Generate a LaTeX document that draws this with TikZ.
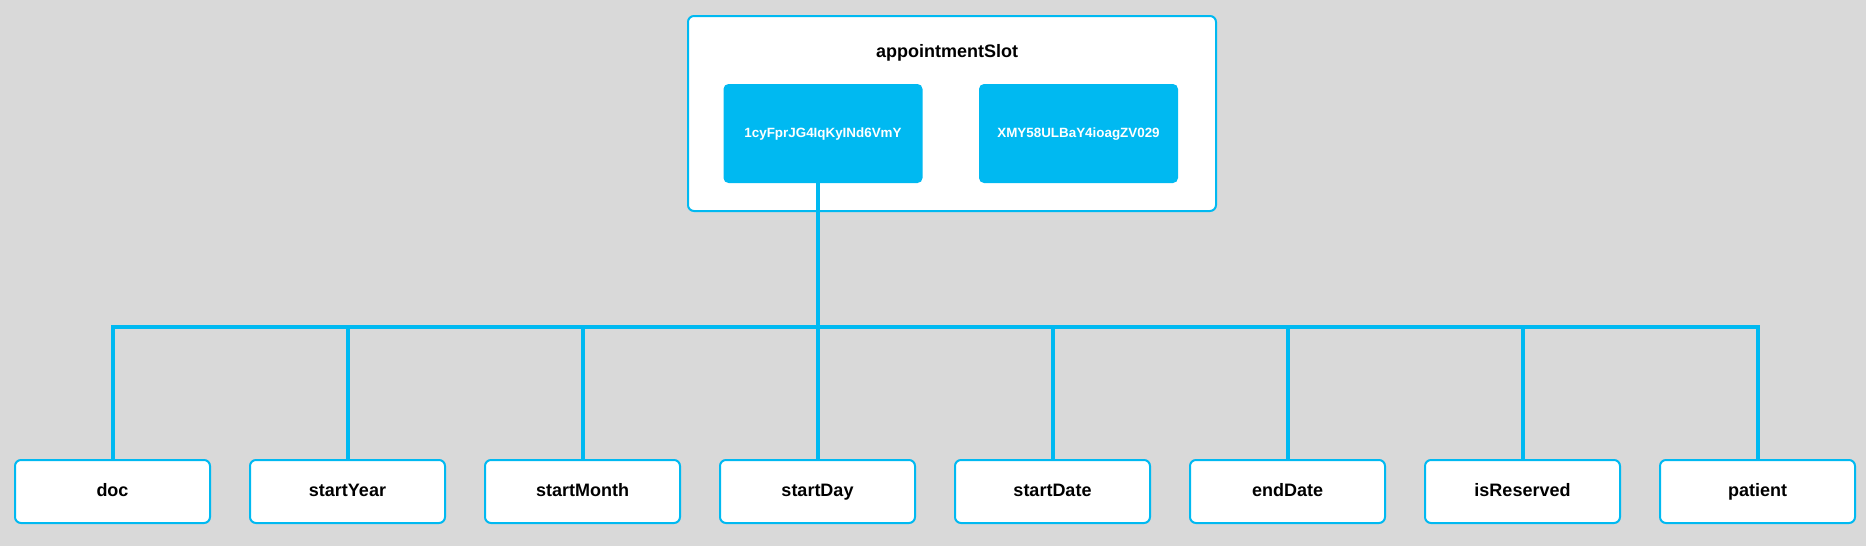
\documentclass[tikz,border=0pt]{standalone}
\usepackage{fontspec}
\setmainfont{Liberation Sans}
\definecolor{linkblue}{HTML}{00B9F1}
\definecolor{canvas}{HTML}{D9D9D9}
\tikzset{
  field/.style={draw=linkblue, line width=2pt, fill=white, rounded corners=6pt,
    minimum width=195pt, minimum height=63pt, text height=13pt, text depth=3pt,
    font=\fontsize{18}{20}\selectfont\bfseries},
  key/.style={fill=linkblue, rounded corners=5pt, minimum width=199pt, minimum height=99pt,
    text height=10pt, text depth=3pt, text=white, font=\fontsize{13.4}{15}\selectfont\bfseries},
  link/.style={draw=linkblue, line width=4pt}
}
\begin{document}
\begin{tikzpicture}[x=1pt,y=-1pt]
\useasboundingbox[fill=canvas] (0,0) rectangle (1866,546);
% collection box
\node[draw=linkblue, line width=2pt, fill=white, rounded corners=6pt,
  minimum width=528pt, minimum height=195pt] (slot) at (952,113.5) {};
\node[font=\fontsize{18}{20}\selectfont\bfseries] (title) at (947,53) {appointmentSlot};
\node[key] (keyA) at (823,133.5) {1cyFprJG4IqKyINd6VmY};
\node[key] (keyB) at (1078.5,133.5) {XMY58ULBaY4ioagZV029};
% fields
\foreach \fld [count=\i from 0] in {doc,startYear,startMonth,startDay,startDate,endDate,isReserved,patient}
  \node[field] (\fld) at (112.5+235*\i,491.5) {\fld};
\coordinate (bar) at (startDay.north |- 0,327);
% connectors
\draw[link] (startDay.north) -- (startDay.north |- keyA.south);
\draw[link] (doc.north) |- (bar) -| (patient.north);
\foreach \fld in {startYear,startMonth,startDate,endDate,isReserved}
  \draw[link] (\fld.north) -- (\fld.north |- bar);
\end{tikzpicture}
\end{document}
